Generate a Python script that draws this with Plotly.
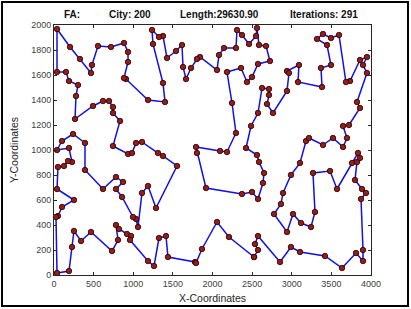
import plotly.graph_objects as go

# Tour order of the cities (data units)
tour_x = [2524, 2574, 2536, 2574, 2852, 2990, 3104, 3419, 3634, 3811, 3899, 3899, 3874, 3937, 3886, 3798,
          3823, 3861, 3836, 3760, 3571, 3483, 3268, 3293, 3243, 3117, 3016, 2940, 2776, 2864, 2890, 2990,
          3104, 3180, 3218, 3394, 3520, 3647, 3697, 3647, 3722, 3861, 3823, 3949, 3899, 3949, 3861, 3735,
          3684, 3596, 3495, 3394, 3319, 3445, 3495, 3369, 3382, 3079, 3091, 2940, 2965, 2940, 2763, 2688,
          2713, 2713, 2625, 2574, 2486, 2423, 2561, 2587, 2650, 2637, 2574, 2498, 2372, 1918, 1804, 1792,
          2095, 2183, 2296, 2246, 2183, 2360, 2435, 2498, 2574, 2725, 2675, 2587, 2561, 2549, 2461, 2372,
          2309, 2296, 2145, 2082, 2057, 1842, 1804, 1729, 1666, 1628, 1615, 1539, 1426, 1375, 1325, 1237,
          1249, 1375, 1401, 1186, 908, 883, 934, 934, 883, 719, 555, 479, 467, 328, 202, 38,
          38, 151, 189, 303, 278, 265, 492, 618, 694, 744, 744, 833, 744, 934, 984, 1035,
          1110, 1312, 1375, 1552, 1287, 1186, 1110, 1060, 1035, 997, 858, 782, 871, 782, 618, 391,
          391, 240, 101, 38, 189, 227, 177, 126, 50, 38, 252, 101, 50, 25, 38, 189,
          227, 252, 341, 467, 732, 808, 782, 820, 921, 972, 959, 1186, 1262, 1325, 1413, 1438,
          1779, 1792, 1867, 2057, 2208]
tour_y = [144, 200, 248, 312, 104, 224, 184, 152, 56, 176, 112, 200, 608, 656, 688, 760,
          904, 936, 976, 896, 688, 832, 816, 504, 384, 416, 488, 344, 488, 568, 656, 800,
          896, 1072, 1096, 1040, 1096, 1024, 1096, 1192, 1200, 1336, 1384, 1616, 1680, 1744, 1720, 1552,
          1544, 1920, 1896, 1928, 1888, 1840, 1680, 1656, 1504, 1544, 1680, 1632, 1616, 1472, 1296, 1368,
          1440, 1488, 1496, 1296, 1192, 1016, 960, 904, 816, 736, 608, 664, 648, 696, 976, 1024,
          992, 984, 1136, 1376, 1624, 1656, 1544, 1584, 1688, 1712, 1832, 1840, 1976, 1912, 1848, 1920,
          1960, 1816, 1816, 1760, 1640, 1744, 1728, 1656, 1568, 1664, 1840, 1792, 1736, 1912, 1904, 1960,
          1848, 1536, 1384, 1400, 1568, 1576, 1704, 1784, 1856, 1824, 1832, 1680, 1616, 1728, 1824, 1968,
          1624, 1624, 1552, 1520, 1432, 1248, 1352, 1392, 1392, 1344, 1296, 1232, 1032, 968, 976, 1056,
          1064, 976, 952, 872, 536, 712, 656, 384, 448, 464, 624, 688, 744, 784, 688, 840,
          1056, 1128, 1072, 1000, 1016, 904, 912, 872, 864, 688, 600, 544, 472, 464, 16, 32,
          224, 352, 272, 344, 192, 280, 400, 368, 328, 312, 280, 112, 72, 296, 312, 144,
          104, 96, 208, 424, 304]

x_ticks = [0, 500, 1000, 1500, 2000, 2500, 3000, 3500, 4000]
y_ticks = [0, 200, 400, 600, 800, 1000, 1200, 1400, 1600, 1800, 2000]
title_parts = ["FA:", "City: 200", "Length:29630.90", "Iterations: 291"]
x_label = "X-Coordinates"
y_label = "Y-Coordinates"

closed_x = tour_x + [tour_x[0]]
closed_y = tour_y + [tour_y[0]]

FONT = "Liberation Sans, Arial, sans-serif"

fig = go.Figure()
fig.add_trace(go.Scatter(
    x=closed_x, y=closed_y, mode="lines+markers",
    line=dict(color="#1010e8", width=1.5),
    marker=dict(size=5.5, color="#9a1a14", line=dict(color="#1a0000", width=0.8)),
    hoverinfo="skip", showlegend=False, cliponaxis=False,
))

axis_common = dict(
    showgrid=False, zeroline=False, showline=True, linecolor="#262626", linewidth=1,
    mirror="ticks", ticks="inside", ticklen=3, tickcolor="#262626", tickwidth=1,
    tickfont=dict(family=FONT, size=9, color="#404040"),
)
fig.update_xaxes(range=[0, 4000], tickvals=x_ticks, ticktext=[str(v) for v in x_ticks], **axis_common)
fig.update_yaxes(range=[0, 2000], tickvals=y_ticks, ticktext=[str(v) for v in y_ticks], **axis_common)

title_x = [0.058, 0.240, 0.522, 0.852]
annotations = []
for txt, px in zip(title_parts, title_x):
    annotations.append(dict(text="<b>" + txt + "</b>", x=px, y=1.04, xref="paper", yref="paper",
                            xanchor="center", yanchor="middle", showarrow=False,
                            font=dict(family=FONT, size=10, color="#111111")))
annotations.append(dict(text=x_label, x=0.5, y=-0.092, xref="paper", yref="paper",
                        xanchor="center", yanchor="middle", showarrow=False,
                        font=dict(family=FONT, size=10.5, color="#262626")))
annotations.append(dict(text=y_label, x=-0.126, y=0.5, xref="paper", yref="paper", textangle=-90,
                        xanchor="center", yanchor="middle", showarrow=False,
                        font=dict(family=FONT, size=10.5, color="#262626")))

fig.update_layout(
    width=411, height=309,
    margin=dict(l=54, r=40, t=25, b=34),
    paper_bgcolor="white", plot_bgcolor="white",
    annotations=annotations,
    shapes=[dict(type="rect", xref="paper", yref="paper", layer="above",
                 x0=-0.164, x1=1.1167, y0=-0.124, y1=1.092,
                 line=dict(color="black", width=2), fillcolor="rgba(0,0,0,0)")],
)

fig.write_html(
    "out.html",
    config={"displayModeBar": False, "staticPlot": True},
    post_script="document.body.style.margin='0';document.body.style.overflow='hidden';",
)
